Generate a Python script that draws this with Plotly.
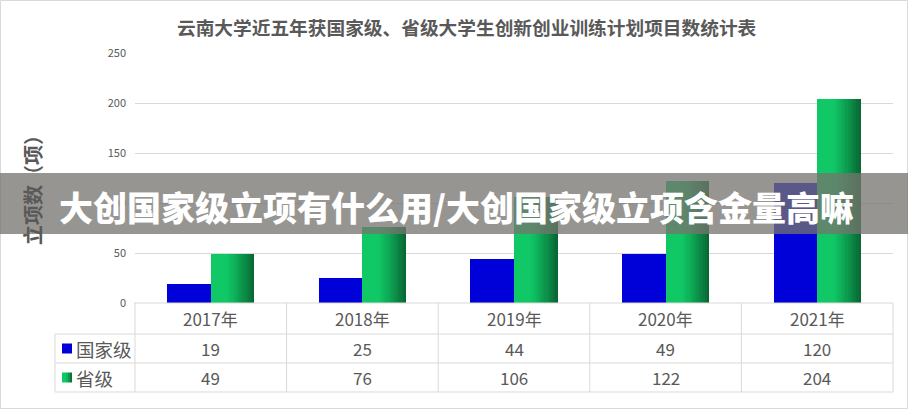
import plotly.graph_objects as go

# ---------------- data ----------------
years = ["2017年", "2018年", "2019年", "2020年", "2021年"]
national = [19, 25, 44, 49, 120]
provincial = [49, 76, 106, 122, 204]
series_names = ["国家级", "省级"]
y_ticks = [0, 50, 100, 150, 200, 250]
title_text = "云南大学近五年获国家级、省级大学生创新创业训练计划项目数统计表"
y_title = "立项数（项）"
banner_text = "大创国家级立项有什么用/大创国家级立项含金量高嘛"

# ---------------- layout geometry (pixels) ----------------
W, H = 908, 409
PL, PR, PT, PB = 135, 893, 53, 303   # plot area
pw, ph = PR - PL, PB - PT

def px(x):
    return (x - PL) / pw

def py(y):
    return (PB - y) / ph

FONT = "Noto Sans CJK SC"
GRAY = "#595959"
LINE = "#d9d9d9"
BLUE = "rgb(0,0,216)"

n = len(years)
idx = list(range(n))
barw = 0.287

fig = go.Figure()

# national (blue) bars
fig.add_trace(go.Bar(x=idx, y=national, width=barw, offset=-barw,
                     marker=dict(color=BLUE, line=dict(width=0)),
                     name=series_names[0], showlegend=False, hoverinfo="y"))

# provincial (green, gradient) bars drawn as strips
def green_at(t):
    bright = (16, 200, 102)
    dark = (8, 100, 50)
    if t <= 0.35:
        c = bright
    else:
        u = (t - 0.35) / 0.65
        u = u ** 1.2
        c = tuple(round(b + (d - b) * u) for b, d in zip(bright, dark))
    return "rgb(%d,%d,%d)" % c

NS = 20
sw = barw / NS
for k in range(NS):
    t = (k + 0.5) / NS
    fig.add_trace(go.Bar(x=idx, y=provincial,
                         width=sw * (1.35 if k < NS - 1 else 1.0),
                         offset=k * sw,
                         marker=dict(color=green_at(t), line=dict(width=0)),
                         name=series_names[1], showlegend=False,
                         hoverinfo="y" if k == 0 else "skip"))

shapes = []
annotations = []

def hline(y, x0, x1):
    shapes.append(dict(type="line", xref="paper", yref="paper",
                       x0=px(x0), x1=px(x1), y0=py(y), y1=py(y),
                       line=dict(color=LINE, width=1), layer="above"))

def vline(x, y0, y1):
    shapes.append(dict(type="line", xref="paper", yref="paper",
                       x0=px(x), x1=px(x), y0=py(y0), y1=py(y1),
                       line=dict(color=LINE, width=1), layer="above"))

# outer frame
shapes.append(dict(type="rect", xref="paper", yref="paper",
                   x0=px(0.5), x1=px(W - 0.5), y0=py(0.5), y1=py(H - 0.5),
                   line=dict(color=LINE, width=1), fillcolor="rgba(0,0,0,0)", layer="below"))

# data table
row_y = [303, 334, 363, 392]
hline(row_y[0], 134, PR)
for yy in row_y[1:]:
    hline(yy, 55, PR)
vline(55, row_y[1], row_y[3])
col_w = pw / n
for k in range(n + 1):
    vline(PL + k * col_w, row_y[0], row_y[3])

centers_y = [(row_y[i] + row_y[i + 1]) / 2 for i in range(3)]
for i in range(n):
    cx = px(PL + (i + 0.5) * col_w)
    for j, txt in enumerate([years[i], str(national[i]), str(provincial[i])]):
        annotations.append(dict(x=cx, y=py(centers_y[j]), xref="paper", yref="paper",
                                text=txt, showarrow=False, xanchor="center", yanchor="middle",
                                font=dict(family=FONT, size=17, color=GRAY)))

# row headers with legend keys
for j, name in enumerate(series_names):
    yc = centers_y[j + 1]
    annotations.append(dict(x=px(74), y=py(yc), xref="paper", yref="paper",
                            text=name, showarrow=False, xanchor="left", yanchor="middle",
                            font=dict(family=FONT, size=18.5, color=GRAY)))
    if j == 0:
        shapes.append(dict(type="rect", xref="paper", yref="paper",
                           x0=px(62), x1=px(72), y0=py(yc - 5), y1=py(yc + 5),
                           fillcolor=BLUE, line=dict(width=0), layer="above"))
    else:
        steps = 5
        for k in range(steps):
            shapes.append(dict(type="rect", xref="paper", yref="paper",
                               x0=px(62 + k * 2), x1=px(62 + (k + 1) * 2),
                               y0=py(yc - 5), y1=py(yc + 5),
                               fillcolor=green_at((k + 0.5) / steps), line=dict(width=0), layer="above"))

# chart title
annotations.append(dict(x=px(467), y=py(27), xref="paper", yref="paper",
                        text="<b>%s</b>" % title_text, showarrow=False,
                        xanchor="center", yanchor="middle",
                        font=dict(family=FONT, size=18.7, color=GRAY)))

# y-axis title
annotations.append(dict(x=px(32), y=py(185), xref="paper", yref="paper",
                        text="<b>%s</b>" % y_title, showarrow=False, textangle=-90,
                        xanchor="center", yanchor="middle",
                        font=dict(family=FONT, size=20, color=GRAY)))

# overlay banner
shapes.append(dict(type="rect", xref="paper", yref="paper",
                   x0=px(0), x1=px(W), y0=py(173), y1=py(234),
                   fillcolor="rgba(118,116,110,0.76)", line=dict(width=0), layer="above"))
annotations.append(dict(x=px(57), y=py(206), xref="paper", yref="paper",
                        text="<b>%s</b>" % banner_text, showarrow=False,
                        xanchor="left", yanchor="middle",
                        font=dict(family="Noto Sans CJK SC Black, " + FONT, size=34, color="white")))

fig.update_layout(
    width=W, height=H,
    margin=dict(l=PL, r=W - PR, t=PT, b=H - PB, pad=0),
    paper_bgcolor="white", plot_bgcolor="white",
    barmode="overlay", bargap=0,
    showlegend=False,
    shapes=shapes, annotations=annotations,
    xaxis=dict(range=[-0.5, n - 0.5], showticklabels=False, showgrid=False,
               zeroline=False, showline=False, ticks="", fixedrange=True),
    yaxis=dict(range=[0, 250], tickvals=y_ticks, showgrid=True, gridcolor=LINE,
               gridwidth=1, zeroline=False, showline=False, ticks="",
               tickfont=dict(family=FONT, size=11, color=GRAY),
               ticklabelstandoff=8, fixedrange=True),
)

fig.write_html("out.html", config={"displayModeBar": False},
               post_script="document.body.style.margin='0';document.body.style.overflow='hidden';")
